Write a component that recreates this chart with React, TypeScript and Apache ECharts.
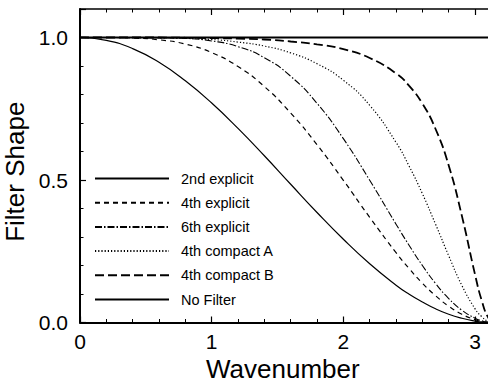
import React, { useEffect, useRef } from "react";
import * as echarts from "echarts";

const wavenumbers = [0, 0.2, 0.4, 0.6, 0.8, 1.0, 1.2, 1.4, 1.6, 1.8, 2.0, 2.2, 2.4, 2.5, 2.6, 2.7, 2.8, 2.9, 3.0, 3.05, 3.1, 3.1416];
const explicit2 = [1, 0.990, 0.961, 0.913, 0.848, 0.770, 0.681, 0.585, 0.485, 0.386, 0.292, 0.206, 0.131, 0.099, 0.072, 0.048, 0.029, 0.015, 0.005, 0.002, 0.0004, 0];
const explicit4 = [1, 1.0, 0.998, 0.992, 0.977, 0.947, 0.898, 0.828, 0.735, 0.624, 0.499, 0.369, 0.245, 0.189, 0.138, 0.094, 0.057, 0.029, 0.010, 0.004, 0.001, 0];
const explicit6 = [1, 1.0, 1.0, 0.999, 0.997, 0.988, 0.968, 0.929, 0.864, 0.769, 0.645, 0.499, 0.345, 0.270, 0.200, 0.137, 0.084, 0.043, 0.015, 0.006, 0.001, 0];
const compactA = [1, 1.0, 1.0, 0.999, 0.997, 0.993, 0.984, 0.970, 0.946, 0.908, 0.850, 0.762, 0.632, 0.548, 0.452, 0.345, 0.234, 0.130, 0.048, 0.021, 0.004, 0];
const compactB = [1, 1.0, 1.0, 1.0, 0.999, 0.998, 0.996, 0.993, 0.986, 0.976, 0.959, 0.928, 0.874, 0.830, 0.768, 0.679, 0.551, 0.374, 0.168, 0.078, 0.017, 0];
const noFilterX = [0, 3.1416];
const noFilter = [1, 1];

const seriesNames = ["2nd explicit", "4th explicit", "6th explicit", "4th compact A", "4th compact B", "No Filter"];
const xTicks = [0, 1, 2, 3];
const yTicks = ["0.0", "0.5", "1.0"];

const FONT = "'Liberation Sans', Arial, Helvetica, sans-serif";

function pairs(xs: number[], ys: number[]) {
  return xs.map((x, i) => [x, ys[i]]);
}

export default function App() {
  const ref = useRef<HTMLDivElement>(null);
  useEffect(() => {
    if (!ref.current) return;
    const chart = echarts.init(ref.current, null, { renderer: "svg" });
    const lineSeries = (name: string, data: number[][], width: number, type: any) => ({
      name,
      type: "line",
      data,
      smooth: true,
      symbol: "none",
      showSymbol: false,
      lineStyle: { color: "#000", width, type },
      itemStyle: { color: "#000" },
      xAxisIndex: 0,
      yAxisIndex: 0,
    });
    chart.setOption({
      animation: false,
      backgroundColor: "#fff",
      grid: { left: 80, top: 9, right: 6.3, bottom: 60.5, containLabel: false, outerBoundsMode: "none" },
      legend: {
        left: 89,
        top: 166,
        orient: "vertical",
        itemWidth: 74,
        itemHeight: 14,
        itemGap: 9.2,
        data: seriesNames,
        itemStyle: { color: "rgba(0,0,0,0)", borderWidth: 0, opacity: 0 },
        textStyle: { fontFamily: FONT, fontSize: 14.5, color: "#000", padding: [0, 0, 0, 7] },
      },
      xAxis: [
        {
          type: "value",
          min: 0,
          max: 3.1416,
          interval: 1,
          position: "bottom",
          name: "Wavenumber",
          nameLocation: "middle",
          nameGap: 30,
          nameTextStyle: { fontFamily: FONT, fontSize: 26, color: "#000", padding: [0, 8, 0, 0] },
          axisLine: { show: true, onZero: false, lineStyle: { color: "#000", width: 2 } },
          axisTick: { show: true, inside: true, length: 6, lineStyle: { color: "#000", width: 1.2 } },
          minorTick: { show: true, splitNumber: 5, length: 3.5, lineStyle: { color: "#000", width: 1 } },
          splitLine: { show: false },
          axisLabel: {
            fontFamily: FONT,
            fontSize: 21,
            color: "#000",
            margin: 8,
            formatter: (v: number) => (xTicks.includes(Math.round(v * 1000) / 1000) ? String(v) : ""),
          },
        },
        {
          type: "value",
          min: 0,
          max: 3.1416,
          interval: 1,
          position: "top",
          axisLine: { show: true, onZero: false, lineStyle: { color: "#000", width: 1.5 } },
          axisTick: { show: true, inside: true, length: 6, lineStyle: { color: "#000", width: 1.2 } },
          minorTick: { show: true, splitNumber: 5, length: 3.5, lineStyle: { color: "#000", width: 1 } },
          splitLine: { show: false },
          axisLabel: { show: false },
        },
      ],
      yAxis: [
        {
          type: "value",
          min: 0,
          max: 1.1,
          interval: 0.5,
          name: "Filter Shape",
          nameLocation: "middle",
          nameGap: 40,
          nameRotate: 90,
          nameTextStyle: { fontFamily: FONT, fontSize: 26, color: "#000", padding: [0, 12, 0, 0] },
          axisLine: { show: true, onZero: false, lineStyle: { color: "#000", width: 2 } },
          axisTick: { show: true, inside: true, length: 6, lineStyle: { color: "#000", width: 1.2 } },
          minorTick: { show: true, splitNumber: 5, length: 3.5, lineStyle: { color: "#000", width: 1 } },
          splitLine: { show: false },
          axisLabel: {
            fontFamily: FONT,
            fontSize: 21,
            color: "#000",
            margin: 12,
            formatter: (v: number) => {
              const s = v.toFixed(1);
              return yTicks.includes(s) && Math.abs(v * 2 - Math.round(v * 2)) < 1e-6 ? s : "";
            },
          },
        },
      ],
      series: [
        lineSeries(seriesNames[0], pairs(wavenumbers, explicit2), 1.2, "solid"),
        lineSeries(seriesNames[1], pairs(wavenumbers, explicit4), 1.2, [5, 4]),
        lineSeries(seriesNames[2], pairs(wavenumbers, explicit6), 1.1, [7, 2, 1.5, 2]),
        lineSeries(seriesNames[3], pairs(wavenumbers, compactA), 1.2, [1.2, 2]),
        lineSeries(seriesNames[4], pairs(wavenumbers, compactB), 1.8, [9, 4]),
        lineSeries(seriesNames[5], pairs(noFilterX, noFilter), 2.2, "solid"),
      ],
    });
    return () => chart.dispose();
  }, []);
  return (
    <div style={{ position: "fixed", left: 0, top: 0, width: 488, height: 383, overflow: "hidden", background: "#fff" }}>
      <div ref={ref} style={{ width: 500, height: 383 }} />
    </div>
  );
}
